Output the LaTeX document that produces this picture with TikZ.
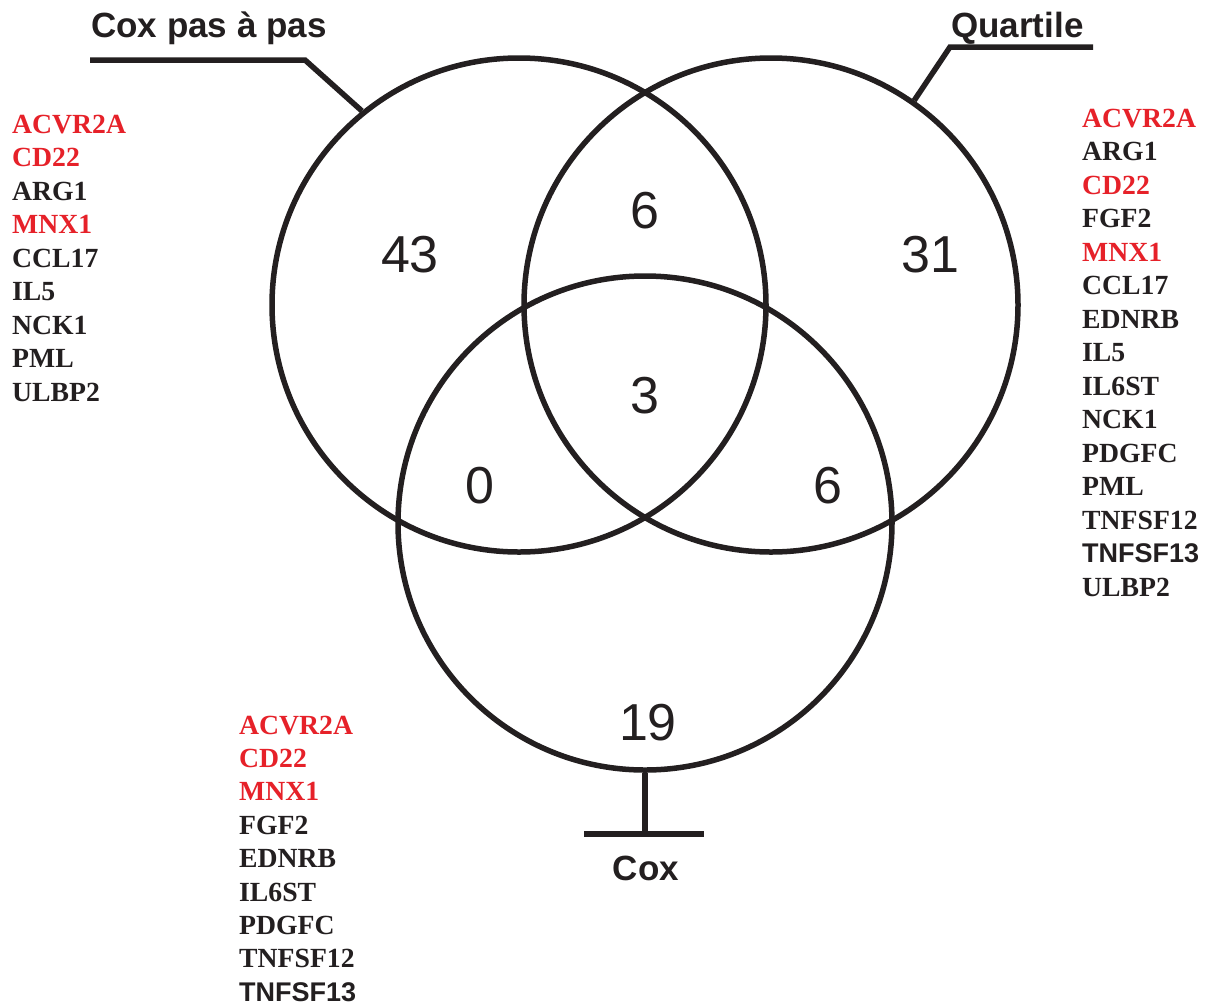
\documentclass[tikz,border=0pt]{standalone}
\usepackage{fontspec}
\setmainfont{Liberation Serif}
\setsansfont{Liberation Sans}
\definecolor{gred}{RGB}{230,33,41}
\definecolor{ink}{RGB}{35,31,32}
\begin{document}
\begin{tikzpicture}[x=1pt,y=-1pt,
  setc/.style={circle,draw=ink,line width=5.5pt,minimum size=494pt,inner sep=0pt},
  lbl/.style={draw=ink,line width=5.5pt},
  num/.style={font=\fontsize{52}{52}\selectfont\sffamily,text=ink,inner sep=0pt},
  ttl/.style={font=\fontsize{35}{35}\selectfont\sffamily\bfseries,text=ink,inner sep=0pt},
  gene/.style={font=\fontsize{27.7}{27.7}\selectfont\bfseries,text=ink,inner sep=0pt,anchor=base west},
  rgene/.style={gene,text=gred},
  sgene/.style={gene,font=\fontsize{27}{27}\selectfont\sffamily\bfseries}]
\useasboundingbox[fill=white] (0,0) rectangle (1208,1005);
% circles
\node[setc] (L) at (519,305) {};
\node[setc] (R) at (771,305) {};
\node[setc] (B) at (645,523) {};
% titles
\node[ttl,anchor=base west] (tL) at (91,37) {Cox pas à pas};
\node[ttl,anchor=base west] (tR) at (951,37) {Quartile};
\node[ttl,anchor=base] (tB) at (646,880) {Cox};
% label lines
\coordinate (lL1) at (90,60);
\coordinate (lL2) at (305,60);
\draw[lbl] (lL1) -- (lL2) -- (L.129);
\coordinate (lR1) at (1093,47);
\coordinate (lR2) at (950,47);
\draw[lbl] (lR1) -- (lR2) -- (R.55);
\coordinate (lB1) at (645,834);
\coordinate (lBa) at (584,834);
\coordinate (lBb) at (704,834);
\draw[lbl] (B.south) -- (lB1);
\draw[lbl] (lBa) -- (lBb);
% numbers
\node[num] (n43) at (410,255) {43};
\node[num] (n6a) at (645,211) {6};
\node[num] (n31) at (930,255) {31};
\node[num] (n3) at (645,396) {3};
\node[num] (n0) at (480,486) {0};
\node[num] (n6b) at (828,486) {6};
\node[num] (n19) at (648,723) {19};
% left list
\node[rgene] (a1) at (12,133) {ACVR2A};
\node[rgene] (a2) at (12,166.5) {CD22};
\node[gene] (a3) at (12,200) {ARG1};
\node[rgene] (a4) at (12,233.5) {MNX1};
\node[gene] (a5) at (12,267) {CCL17};
\node[gene] (a6) at (12,300.5) {IL5};
\node[gene] (a7) at (12,334) {NCK1};
\node[gene] (a8) at (12,367.5) {PML};
\node[gene] (a9) at (12,401) {ULBP2};
% right list
\node[rgene] (b1) at (1082,127) {ACVR2A};
\node[gene] (b2) at (1082,160.5) {ARG1};
\node[rgene] (b3) at (1082,194) {CD22};
\node[gene] (b4) at (1082,227.5) {FGF2};
\node[rgene] (b5) at (1082,261) {MNX1};
\node[gene] (b6) at (1082,294.5) {CCL17};
\node[gene] (b7) at (1082,328) {EDNRB};
\node[gene] (b8) at (1082,361.5) {IL5};
\node[gene] (b9) at (1082,395) {IL6ST};
\node[gene] (b10) at (1082,428.5) {NCK1};
\node[gene] (b11) at (1082,462) {PDGFC};
\node[gene] (b12) at (1082,495.5) {PML};
\node[gene] (b13) at (1082,529) {TNFSF12};
\node[sgene] (b14) at (1082,562.5) {TNFSF13};
\node[gene] (b15) at (1082,596) {ULBP2};
% bottom list
\node[rgene] (c1) at (239,734) {ACVR2A};
\node[rgene] (c2) at (239,767.4) {CD22};
\node[rgene] (c3) at (239,800.8) {MNX1};
\node[gene] (c4) at (239,834.2) {FGF2};
\node[gene] (c5) at (239,867.6) {EDNRB};
\node[gene] (c6) at (239,901) {IL6ST};
\node[gene] (c7) at (239,934.4) {PDGFC};
\node[gene] (c8) at (239,967.8) {TNFSF12};
\node[sgene] (c9) at (239,1001.2) {TNFSF13};
\end{tikzpicture}
\end{document}
